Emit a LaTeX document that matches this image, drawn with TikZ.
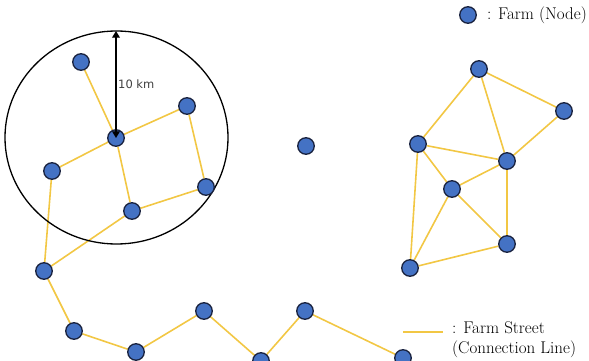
\documentclass[tikz,border=0pt]{standalone}
\usepackage{fontspec}
\setsansfont{DejaVu Sans}
\definecolor{FarmBlue}{HTML}{4472C4}
\definecolor{FarmEdge}{HTML}{1A2340}
\definecolor{Street}{HTML}{F2C744}
\usetikzlibrary{arrows.meta, positioning, backgrounds}

\begin{document}
\begin{tikzpicture}[x=1pt, y=-1pt, >=Triangle,
  farm/.style={circle, draw=FarmEdge, fill=FarmBlue, line width=1.3pt,
               minimum size=16.5pt, inner sep=0pt},
  street/.style={draw=Street, line width=1.6pt},
  radius/.style={<->, line width=1.4pt, black},
  lbl/.style={font=\fontsize{17}{20}\selectfont, align=left, inner sep=0pt, anchor=west}
]
\clip (0,0) rectangle (589,361);

%% ---- 10 km range round the hub ----
\draw[line width=1.3pt] (116.5,137.5) ellipse [x radius=111.5, y radius=106.5];

%% ---- Farms in the circle ----
\node[farm] (hub)   at (116,138) {};
\node[farm] (north) at ( 81, 62) {};
\node[farm] (ne)    at (187,106) {};
\node[farm] (west)  at ( 52,171) {};
\node[farm] (east)  at (206,187) {};
\node[farm] (south) at (132,211) {};
\coordinate (rtop) at (116,31);

%% ---- Bottom chain ----
\node[farm] (b1) at ( 44,271) {};
\node[farm] (b2) at ( 74,331) {};
\node[farm] (b3) at (136,352) {};
\node[farm] (b4) at (204,311) {};
\node[farm] (b5) at (261,361) {};
\node[farm] (b6) at (305,311) {};
\node[farm] (b7) at (403,358) {};

%% ---- Lone farm ----
\node[farm] (lone) at (306,146) {};

%% ---- Right cluster ----
\node[farm] (r1) at (479, 69) {};
\node[farm] (r2) at (564,111) {};
\node[farm] (r3) at (418,144) {};
\node[farm] (r4) at (507,161) {};
\node[farm] (r5) at (452,189) {};
\node[farm] (r6) at (507,244) {};
\node[farm] (r7) at (410,268) {};

%% ---- Streets (behind the farms) ----
\begin{pgfonlayer}{background}
\path[street] (north) -- (hub)  (hub) -- (ne)  (hub) -- (west)  (hub) -- (south)
              (ne) -- (east)  (east) -- (south)  (west) -- (b1)  (south) -- (b1);
\path[street] (b1) -- (b2)  (b2) -- (b3)  (b3) -- (b4)  (b4) -- (b5)
              (b5) -- (b6)  (b6) -- (b7);
\path[street] (r1) -- (r2)  (r1) -- (r3)  (r1) -- (r4)  (r2) -- (r4)
              (r3) -- (r4)  (r3) -- (r5)  (r3) -- (r7)  (r4) -- (r5)
              (r4) -- (r6)  (r5) -- (r6)  (r5) -- (r7)  (r7) -- (r6);
\end{pgfonlayer}

%% ---- Range arrow ----
\draw[radius] (hub.center) -- node[right, inner sep=1.5pt, pos=0.5,
  font=\sffamily\fontsize{11.5}{13}\selectfont, text=black!75]{10 km} (rtop);

%% ---- Legend ----
\node[farm] (keyfarm) at (468,15) {};
\node[lbl, right=10pt of keyfarm] (keytext) {: Farm (Node)};
\coordinate (keyl) at (403,332);
\coordinate (keyr) at (443,332);
\draw[street] (keyl) -- (keyr);
\node[lbl] (streettext) at (452,340) {: Farm Street\\(Connection Line)};
\end{tikzpicture}
\end{document}
